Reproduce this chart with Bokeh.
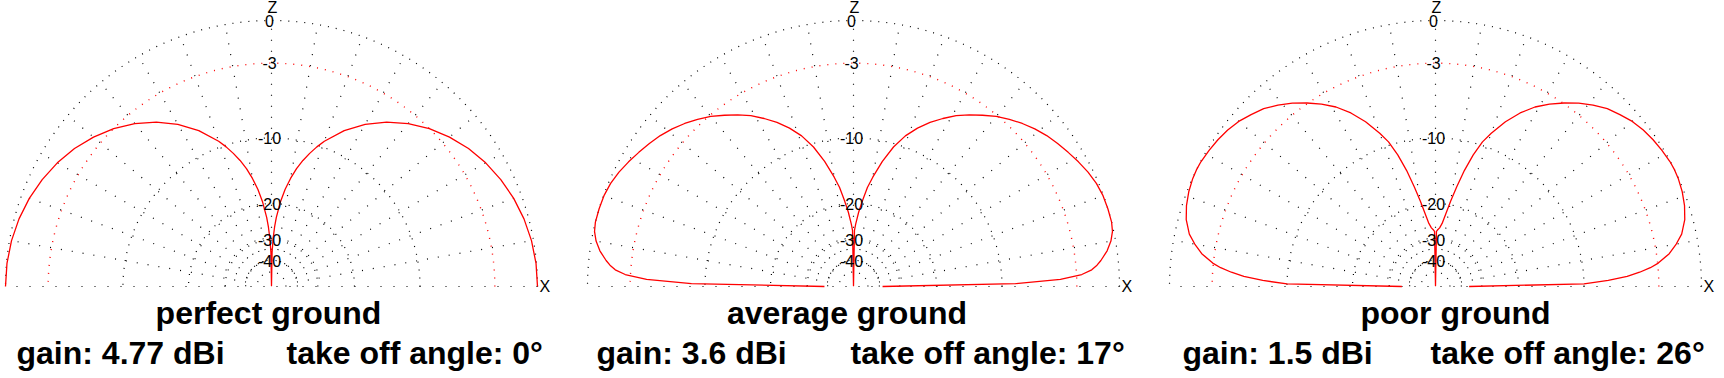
import numpy as np
from bokeh.plotting import figure
from bokeh.models import Range1d
from bokeh.core.properties import value
from bokeh.embed import file_html
from bokeh.resources import INLINE

# ---------------- data (relative gain in dB vs elevation angle, one side; pattern is symmetric) -------------
panel_titles = ["perfect ground", "average ground", "poor ground"]
panel_gain = ["gain: 4.77 dBi", "gain: 3.6 dBi", "gain: 1.5 dBi"]
panel_toa = ["take off angle: 0°", "take off angle: 17°", "take off angle: 26°"]

elev_perfect = [0, 5, 10, 15, 20, 25, 30, 35, 40, 45, 50, 55, 60, 65, 70, 72, 74, 76, 78, 80, 82, 84, 86, 87,
                88, 89, 90]
db_perfect = [0.0, -0.03, -0.13, -0.3, -0.54, -0.86, -1.25, -1.73, -2.32, -3.01, -3.84, -4.83, -6.02, -7.48,
              -9.32, -10.2, -11.2, -12.3, -13.6, -15.2, -17.1, -19.6, -23.1, -25.6, -29.1, -35.2, -100]

elev_average = [0, 1, 2, 3, 4, 5, 6, 8, 10, 12, 14, 17, 20, 23, 26, 29, 32, 35, 38, 41, 44, 47, 50, 53, 56, 59,
                62, 65, 68, 71, 74, 77, 80, 82, 84, 86, 88, 89, 90]
db_average = [-38, -8.5, -4.3, -2.6, -1.85, -1.45, -1.15, -0.65, -0.3, -0.08, 0, 0, -0.03, -0.14, -0.33, -0.58,
              -0.85, -1.12, -1.4, -1.75, -2.15, -2.6, -3.1, -3.7, -4.3, -4.95, -5.75, -6.6, -7.6, -8.8, -10.4,
              -12.5, -15.0, -16.8, -19.3, -21.8, -24.9, -26.7, -100]

elev_poor = [0, 1, 2, 3, 4, 5, 6, 8, 10, 12, 15, 18, 21, 24, 26, 28, 31, 34, 37, 40, 43, 46, 49, 52, 55, 58,
             61, 64, 67, 70, 72, 74, 76, 78, 80, 82, 84, 86, 88, 89, 90]
db_poor = [-35.5, -10.0, -7.4, -5.6, -4.5, -3.6, -2.95, -2.05, -1.45, -0.95, -0.52, -0.27, -0.11, -0.02, 0,
           -0.02, -0.12, -0.23, -0.38, -0.6, -0.92, -1.25, -1.75, -2.3, -2.95, -3.65, -4.45, -5.5, -6.8, -8.4,
           -9.6, -11.4, -13.7, -16.5, -19.3, -22.2, -24.6, -25.9, -26.6, -27.0, -100]

ring_db = [0, -10, -20, -30, -40, -50]
ring_red_db = [-3]
tick_db = [0, -3, -10, -20, -30, -40]
tick_labels = ["0", "-3", "-10", "-20", "-30", "-40"]
spoke_deg = [10, 20, 30, 40, 50, 60, 70, 80, 90, 100, 110, 120, 130, 140, 150, 160, 170]
spoke_inner_db = -40

# ---------------- layout -------------
W, H = 1724, 378
R = 266.0
CY = 286.0
centers = [271.0, 853.0, 1435.0]
title_x = [268.0, 846.5, 1455.0]
gain_x = [16.0, 596.0, 1182.0]
toa_x = [286.0, 850.0, 1430.0]
FONT = "Liberation Sans"
BIG = "32px"
TITLE_MID = 312.0
LINE2_MID = 352.0


def arls(db):
    """ARRL log scale radius (fraction of outer ring)."""
    return 0.89 ** (-np.asarray(db, dtype=float) / 2.0)


def polar(cx, elev_deg, rr):
    e = np.radians(np.asarray(elev_deg, dtype=float))
    return cx + R * rr * np.cos(e), CY - R * rr * np.sin(e)


p = figure(width=W, height=H, x_range=Range1d(0, W), y_range=Range1d(H, 0),
           output_backend="svg", toolbar_location=None, min_border=0)
p.xaxis.visible = False
p.yaxis.visible = False
p.grid.visible = False
p.outline_line_color = None
p.background_fill_color = "white"
p.border_fill_color = "white"

arc = np.linspace(0, 180, 721)
patterns = [(elev_perfect, db_perfect), (elev_average, db_average), (elev_poor, db_poor)]

for k, cx in enumerate(centers):
    # rings
    for d in ring_db:
        xs, ys = polar(cx, arc, arls(d))
        p.line(xs, ys, line_color="black", line_width=1.2, line_dash="1 7")
    for d in ring_red_db:
        xs, ys = polar(cx, arc, arls(d))
        p.line(xs, ys, line_color="red", line_width=1.4, line_dash="1 7")
    # spokes
    r0 = float(arls(spoke_inner_db))
    for s in spoke_deg:
        xs, ys = polar(cx, [s, s], np.array([r0, 1.0]))
        p.line(xs, ys, line_color="black", line_width=1.2, line_dash="1 10")
    # baseline
    xs, ys = polar(cx, [0, 180], np.array([1.0, 1.0]))
    p.line(xs, ys, line_color="black", line_width=1.2, line_dash="1 12")

    # pattern (right half 0->90, left half mirrored 90->180)
    el, db = patterns[k]
    el = np.asarray(el, dtype=float)
    db = np.asarray(db, dtype=float)
    full_el = np.concatenate([el, 180.0 - el[::-1][1:]])
    full_db = np.concatenate([db, db[::-1][1:]])
    xs, ys = polar(cx, full_el, arls(full_db))
    p.line(xs, ys, line_color="red", line_width=1.3, line_join="round")

    # tick labels
    tx = [cx - 2] * len(tick_db)
    ty = list(CY - R * arls(tick_db))
    p.text(tx, ty, text=tick_labels, text_font=value(FONT), text_font_size="16px",
           text_align="center", text_baseline="middle", text_color="black")
    # axis names
    p.text([cx + 1], [7], text=["Z"], text_font=value(FONT), text_font_size="16px",
           text_align="center", text_baseline="middle", text_color="black")
    p.text([cx + R + 2], [286], text=["X"], text_font=value(FONT), text_font_size="16px",
           text_align="left", text_baseline="middle", text_color="black")

    # titles
    p.text([title_x[k]], [TITLE_MID], text=[panel_titles[k]], text_font=value(FONT), text_font_size=BIG,
           text_font_style="bold", text_align="center", text_baseline="middle", text_color="black")
    p.text([gain_x[k]], [LINE2_MID], text=[panel_gain[k]], text_font=value(FONT), text_font_size=BIG,
           text_font_style="bold", text_align="left", text_baseline="middle", text_color="black")
    p.text([toa_x[k]], [LINE2_MID], text=[panel_toa[k]], text_font=value(FONT), text_font_size=BIG,
           text_font_style="bold", text_align="left", text_baseline="middle", text_color="black")

open("out.html", "w").write(file_html(p, INLINE))
